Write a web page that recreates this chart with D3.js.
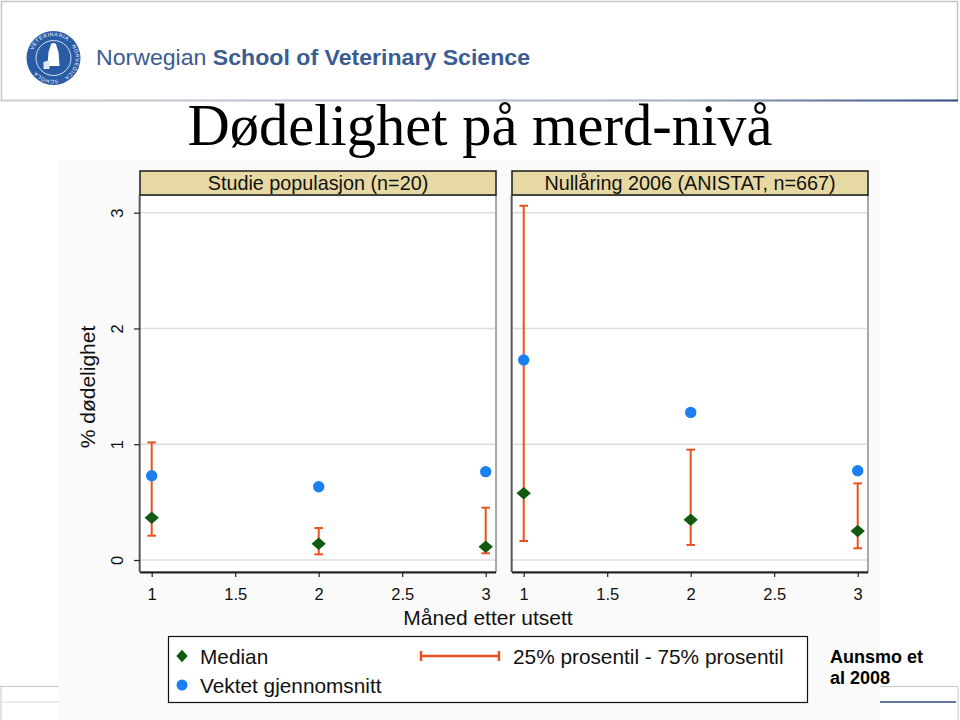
<!DOCTYPE html>
<html><head><meta charset="utf-8">
<script src="https://cdn.jsdelivr.net/npm/d3@7"></script>
<style>
html,body{margin:0;padding:0;background:#fff;}
svg{display:block;font-family:"Liberation Sans",Arial,sans-serif;}
</style></head>
<body>
<svg id="c" width="960" height="720"></svg>
<script>
// ---- data ----
const months = [1, 2, 3];
const xTicks = [1, 1.5, 2, 2.5, 3];
const yTicks = [0, 1, 2, 3];
const panelTitles = ["Studie populasjon (n=20)", "Nullåring 2006 (ANISTAT, n=667)"];
const studyMedian = [0.365, 0.141, 0.115];
const studyMean   = [0.728, 0.633, 0.763];
const studyP25    = [0.21, 0.049, 0.058];
const studyP75    = [1.016, 0.276, 0.452];
const anistatMedian = [0.576, 0.348, 0.250];
const anistatMean   = [1.727, 1.275, 0.771];
const anistatP25    = [0.164, 0.130, 0.101];
const anistatP75    = [3.06, 0.953, 0.662];
const legendLabels = ["Median", "Vektet gjennomsnitt", "25% prosentil - 75% prosentil"];

const svg = d3.select("#c");
const C_MED = "#125a12", C_MEAN = "#1a80f2", C_ERR = "#e8521e";

// ---- slide decorations ----
const defs = svg.append("defs");
const g1 = defs.append("linearGradient").attr("id","hdr").attr("x1","0").attr("x2","1");
g1.append("stop").attr("offset","0").attr("stop-color","#cfd3da");
g1.append("stop").attr("offset","0.7").attr("stop-color","#aab4c6");
g1.append("stop").attr("offset","1").attr("stop-color","#2f4d86");
svg.append("rect").attr("x",1.5).attr("y",1.5).attr("width",956).attr("height",99)
  .attr("fill","#fff").attr("stroke","#c4c4c4").attr("stroke-width",1.5);
svg.append("rect").attr("x",0).attr("y",99.5).attr("width",958).attr("height",2).attr("fill","url(#hdr)");

// logo
const logo = svg.append("g").attr("transform","translate(53.5,58)");
logo.append("circle").attr("r",27).attr("fill","#2a5ca6");
logo.append("circle").attr("r",17.5).attr("fill","none").attr("stroke","#fff").attr("stroke-width",0.8);
logo.append("path").attr("d","M-3,-12 a3,3 0 1,1 6,0 l2,6 l1,14 l-12,0 l1,-14 z").attr("fill","#fff");
logo.append("path").attr("d","M-10,4 l6,-2 l0,9 l-6,0 z").attr("fill","#dfe7f3");
const ringText = ["VETERINARIA","NORVEGICA","SCHOLA"];
defs.append("path").attr("id","ring").attr("d","M-22,0 a22,22 0 1,1 44,0 a22,22 0 1,1 -44,0");
logo.append("text").attr("font-size",5.2).attr("fill","#fff").attr("letter-spacing",0.6)
  .append("textPath").attr("href","#ring").attr("startOffset","6%").text(ringText.join(" · "));

const hdr = svg.append("text").attr("x",96).attr("y",65).attr("font-size",21.5).attr("fill","#3b5c92")
  .attr("textLength",434).attr("lengthAdjust","spacingAndGlyphs");
hdr.append("tspan").text("Norwegian ");
hdr.append("tspan").attr("font-weight","bold").text("School of Veterinary Science");

svg.append("text").attr("x",480).attr("y",145).attr("text-anchor","middle")
  .attr("font-family","'Liberation Serif','Times New Roman',serif").attr("font-size",58.5)
  .attr("fill","#000").text("Dødelighet på merd-nivå");

// footer
svg.append("path").attr("d","M0,686.5 H62 M1,686.5 V720").attr("stroke","#c8c8c8").attr("fill","none");
svg.append("line").attr("x1",0).attr("x2",62).attr("y1",702).attr("y2",702).attr("stroke","#dadada");
svg.append("path").attr("d","M870,686.5 H958 V720").attr("stroke","#c8c8c8").attr("fill","none");
svg.append("line").attr("x1",870).attr("x2",956).attr("y1",702).attr("y2",702).attr("stroke","#2f4d86").attr("stroke-width",1.5);

// chart background
svg.append("rect").attr("x",59).attr("y",160).attr("width",821).attr("height",560).attr("fill","#fafafa");

// ---- panels ----
const plotTop = 195, plotBottom = 572, stripTop = 171;
const y = d3.scaleLinear().domain([0, 3]).range([560, 212.7]);
const panels = [
  {title: panelTitles[0], left: 140, right: 496, med: studyMedian, mean: studyMean, lo: studyP25, hi: studyP75, yaxis: true},
  {title: panelTitles[1], left: 512, right: 868, med: anistatMedian, mean: anistatMean, lo: anistatP25, hi: anistatP75, yaxis: false}
];
const diamondPath = d3.symbol().type(d3.symbolSquare).size(88)();
const legendDiamond = d3.symbol().type(d3.symbolSquare).size(64)();

panels.forEach(p => {
  const x = d3.scaleLinear().domain([1, 3]).range([p.left + 11.7, p.right - 10.3]);
  const g = svg.append("g");
  // plot area
  g.append("rect").attr("x",p.left).attr("y",plotTop).attr("width",p.right-p.left).attr("height",plotBottom-plotTop)
    .attr("fill","#fff").attr("stroke","#555").attr("stroke-width",1);
  // grid
  g.selectAll(".grid").data(yTicks).join("line")
    .attr("x1",p.left+1).attr("x2",p.right-1).attr("y1",d=>y(d)).attr("y2",d=>y(d))
    .attr("stroke","#dcdcdc").attr("stroke-width",1.6);
  // strip
  g.append("rect").attr("x",p.left).attr("y",stripTop).attr("width",p.right-p.left).attr("height",plotTop-stripTop)
    .attr("fill","#e7d9a4").attr("stroke","#1a1a1a").attr("stroke-width",1.5);
  g.append("text").attr("x",(p.left+p.right)/2).attr("y",189.5).attr("text-anchor","middle")
    .attr("font-size",19.8).attr("fill","#111").text(p.title);
  // x axis
  const xa = g.append("g").attr("transform",`translate(0,${plotBottom})`)
    .call(d3.axisBottom(x).tickValues(xTicks).tickSize(5).tickPadding(11).tickFormat(d => String(d)));
  xa.select(".domain").attr("d",`M${p.left},0.5H${p.right}`).attr("stroke","#222").attr("stroke-width",1.8);
  xa.selectAll(".tick line").attr("stroke","#222").attr("stroke-width",1.2);
  xa.selectAll(".tick text").attr("font-size",16.5).attr("fill","#111").attr("font-family","'Liberation Sans',Arial,sans-serif");
  if (p.yaxis) {
    const ya = g.append("g").attr("transform",`translate(${p.left},0)`)
      .call(d3.axisLeft(y).tickValues(yTicks).tickSize(6).tickPadding(0).tickFormat(d3.format("d")));
    ya.select(".domain").attr("d",`M-0.5,${plotTop}V${plotBottom}`).attr("stroke","#555").attr("stroke-width",1.6);
    ya.selectAll(".tick line").attr("stroke","#222").attr("stroke-width",1.2);
    ya.selectAll(".tick text").attr("font-size",16.5).attr("fill","#111").attr("x",null).attr("dy",null)
      .attr("text-anchor","middle").attr("font-family","'Liberation Sans',Arial,sans-serif")
      .attr("transform","translate(-15,0) rotate(-90) translate(0,-2)")
      .attr("dominant-baseline","auto").attr("y",0);
  } else {
    g.append("line").attr("x1",p.left-0.5).attr("x2",p.left-0.5).attr("y1",plotTop).attr("y2",plotBottom)
      .attr("stroke","#555").attr("stroke-width",1.6);
  }
  // error bars
  const eb = g.selectAll(".eb").data(months.map((m,i)=>({m, lo:p.lo[i], hi:p.hi[i]}))).join("g");
  eb.append("line").attr("x1",d=>x(d.m)).attr("x2",d=>x(d.m)).attr("y1",d=>y(d.lo)).attr("y2",d=>y(d.hi))
    .attr("stroke",C_ERR).attr("stroke-width",2);
  eb.append("line").attr("x1",d=>x(d.m)-4.3).attr("x2",d=>x(d.m)+4.3).attr("y1",d=>y(d.lo)).attr("y2",d=>y(d.lo))
    .attr("stroke",C_ERR).attr("stroke-width",2);
  eb.append("line").attr("x1",d=>x(d.m)-4.3).attr("x2",d=>x(d.m)+4.3).attr("y1",d=>y(d.hi)).attr("y2",d=>y(d.hi))
    .attr("stroke",C_ERR).attr("stroke-width",2);
  // medians
  g.selectAll(".med").data(months.map((m,i)=>({m, v:p.med[i]}))).join("path")
    .attr("d", diamondPath)
    .attr("transform",d=>`translate(${x(d.m)},${y(d.v)}) scale(1.08,0.95) rotate(45)`).attr("fill",C_MED);
  // means
  g.selectAll(".mean").data(months.map((m,i)=>({m, v:p.mean[i]}))).join("circle")
    .attr("cx",d=>x(d.m)).attr("cy",d=>y(d.v)).attr("r",5.7).attr("fill",C_MEAN);
});

// axis titles
svg.append("text").attr("transform","translate(95,387) rotate(-90)").attr("text-anchor","middle")
  .attr("font-size",21).attr("fill","#111").text("% dødelighet");
svg.append("text").attr("x",488).attr("y",625).attr("text-anchor","middle")
  .attr("font-size",21).attr("fill","#111").text("Måned etter utsett");

// legend
const lg = svg.append("g");
lg.append("rect").attr("x",168.5).attr("y",636.5).attr("width",639).attr("height",66)
  .attr("fill","#fff").attr("stroke","#111").attr("stroke-width",1.2);
lg.append("path").attr("d", legendDiamond)
  .attr("transform","translate(182,656) scale(1.0,1.1) rotate(45)").attr("fill",C_MED);
lg.append("text").attr("x",200).attr("y",664).attr("font-size",20.8).attr("fill","#111").text(legendLabels[0]);
lg.append("circle").attr("cx",182).attr("cy",685).attr("r",5.5).attr("fill",C_MEAN);
lg.append("text").attr("x",200).attr("y",693).attr("font-size",20.8).attr("fill","#111").text(legendLabels[1]);
lg.append("path").attr("d","M421,651V661M421,656H499M499,651V661").attr("stroke",C_ERR).attr("stroke-width",2.5).attr("fill","none");
lg.append("text").attr("x",513).attr("y",664).attr("font-size",20.8).attr("fill","#111").text(legendLabels[2]);

// citation
svg.append("text").attr("x",830).attr("y",663).attr("font-size",18).attr("font-weight","bold").attr("fill","#000").text("Aunsmo et");
svg.append("text").attr("x",830).attr("y",684).attr("font-size",18).attr("font-weight","bold").attr("fill","#000").text("al 2008");
</script>
</body></html>
